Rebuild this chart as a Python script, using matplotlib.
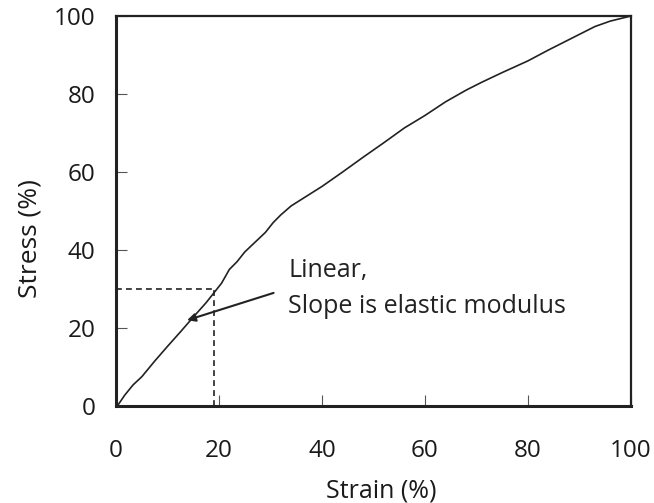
import matplotlib.pyplot as plt

strain = [0, 0.4, 1.7, 3.3, 5, 7.5, 10, 12.5, 15, 17.5, 19, 20.5, 22, 23.5, 25, 27, 29, 30.5, 32, 34,
          37, 40, 44, 48, 52, 56, 60, 64, 68, 71, 75, 80, 84, 87, 90, 93, 96, 100]
stress = [0, 0.3, 2.8, 5.4, 7.5, 11.5, 15.3, 19, 22.8, 26.5, 29, 31.5, 35, 37, 39.5, 42, 44.5, 47, 49, 51.3,
          53.8, 56.3, 60, 63.8, 67.5, 71.3, 74.5, 78, 81, 83, 85.5, 88.5, 91.3, 93.3, 95.3, 97.3, 98.7, 100]

dash_x = 19
dash_y = 30

plt.rcParams["font.family"] = ["Open Sans", "DejaVu Sans"]

fig = plt.figure(figsize=(6.54, 5.03), dpi=100)
ax = fig.add_axes([0.1774, 0.1928, 0.7874, 0.7754])

ax.plot(strain, stress, color="#222222", lw=1.2)
ax.plot([0, dash_x], [dash_y, dash_y], color="#222222", lw=1.2, ls=(0, (3.5, 2.5)))
ax.plot([dash_x, dash_x], [0, dash_y], color="#222222", lw=1.2, ls=(0, (3.5, 2.5)))

ax.annotate("", xy=(13.8, 22), xytext=(30.6, 29),
            arrowprops=dict(arrowstyle="-|>", color="#222222", lw=1.5,
                            mutation_scale=12, shrinkA=0, shrinkB=0))
ax.text(33.4, 33.1, "Linear,", fontsize=18, color="#222222", va="baseline", ha="left")
ax.text(33.4, 23.8, "Slope is elastic modulus", fontsize=18, color="#222222", va="baseline", ha="left")

ax.set_xlim(0, 100)
ax.set_ylim(0, 100)
ax.set_xticks([0, 20, 40, 60, 80, 100])
ax.set_yticks([0, 20, 40, 60, 80, 100])
ax.tick_params(direction="in", length=8, width=0.8, color="#555555",
               labelsize=17.5, labelcolor="#1a1a1a")
ax.tick_params(axis="y", pad=15)
ax.tick_params(axis="x", pad=24)
for side in ["left", "bottom"]:
    ax.spines[side].set_linewidth(2.2)
for side in ["top", "right"]:
    ax.spines[side].set_linewidth(1.6)
for s in ax.spines.values():
    s.set_color("#222222")

ax.set_xlabel("Strain (%)", fontsize=18, color="#1a1a1a")
ax.set_ylabel("Stress (%)", fontsize=19, color="#1a1a1a")
ax.xaxis.set_label_coords(0.515, -0.185)
ax.yaxis.set_label_coords(-0.142, 0.43)

fig.savefig("out.png", dpi=100)
